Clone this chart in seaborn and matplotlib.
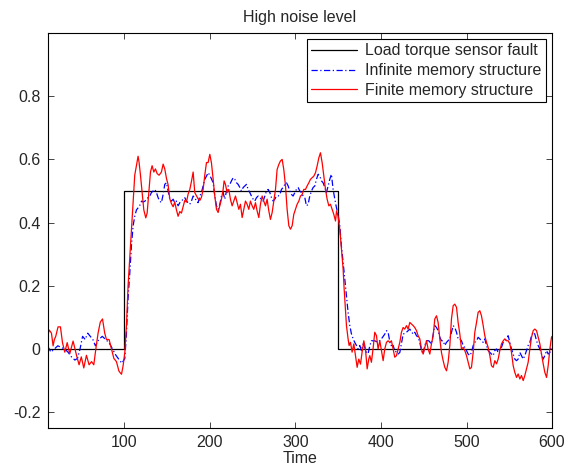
import pandas as pd
import seaborn as sns
import matplotlib.pyplot as plt

# Values #######################################################################

fault_time = [10, 100, 350, 600]
fault_value = [0, 0.5, 0, 0]

red_time = [10, 12, 14.6, 16.5, 18, 19.6, 22.3, 25.1, 27.5, 30.2, 33, 36, 39.9, 43.9, 46.9,
            49.5, 52.4, 55.5, 58.6, 61.5, 64.1, 66.5, 69.1, 71.7, 74.3, 76.9, 78.9, 82, 84.8,
            87.6, 90.6, 93.5, 96.5, 98.4, 100.4, 102.3, 104.2, 106.2, 108.2, 110.1, 112.0,
            114.0, 115.9, 117.1, 118.7, 120.6, 122.6, 124.9, 126.5, 128.4, 130.4, 132.3,
            134.3, 136.2, 138.2, 140.5, 143.2, 145.2, 147.1, 149.1, 151.0, 153.0, 154.9,
            156.9, 158.8, 160.8, 162.7, 164.7, 166.6, 168.6, 170.5, 172.5, 174.4, 176.4,
            178.3, 180.3, 182.2, 184.2, 186.1, 188.1, 190.0, 192.0, 193.9, 195.9, 197.8,
            199.8, 201.7, 203.7, 205.6, 207.6, 209.5, 211.5, 213.4, 215.4, 216.5, 218.1,
            220.0, 222.0, 223.9, 225.9, 227.8, 229.8, 231.7, 233.7, 235.6, 237.6, 239.5,
            241.5, 243.4, 245.4, 247.3, 249.3, 251.2, 253.2, 255.1, 257.1, 259.0, 261.0,
            262.9, 264.9, 266.8, 268.8, 270.7, 272.7, 274.6, 276.6, 278.5, 280.5, 282.4,
            284.4, 286.3, 288.3, 290.2, 292.2, 294.1, 296.1, 298.0, 300.0, 301.9, 303.9,
            305.8, 307.8, 309.7, 311.7, 313.6, 315.6, 317.5, 319.5, 321.4, 323.4, 325.3,
            327.3, 329.2, 331.2, 333.1, 335.1, 337.0, 339.0, 340.9, 342.9, 344.8, 346.8,
            348.0, 349.8, 351.8, 353.7, 355.7, 356.9, 358.4, 359.6, 361.5, 362.7, 364.3,
            366.2, 368.2, 370.1, 372.1, 374.0, 376.0, 377.9, 379.9, 381.8, 383.8, 385.7,
            386.9, 388.8, 390.8, 392.7, 394.7, 396.6, 398.6, 400.5, 402.5, 404.4, 406.4,
            408.3, 410.3, 412.2, 414.2, 416.1, 418.1, 420.0, 422.0, 423.9, 425.9, 427.8,
            429.8, 431.7, 433.7, 435.6, 437.6, 439.5, 441.5, 443.4, 445.4, 447.3, 449.3,
            451.2, 453.2, 455.1, 457.1, 459.0, 461.0, 462.9, 464.9, 466.8, 468.8, 470.7,
            472.7, 474.6, 476.6, 478.5, 480.5, 482.4, 484.4, 486.3, 488.3, 490.2, 492.2,
            494.1, 496.1, 498.0, 500.0, 501.9, 503.9, 505.8, 507.8, 509.7, 511.7, 513.6,
            515.6, 517.5, 519.5, 521.4, 523.4, 525.3, 527.3, 529.2, 531.2, 533.1, 535.1,
            537.0, 539.0, 540.9, 542.9, 544.8, 546.8, 548.7, 550.7, 552.6, 554.6, 556.5,
            558.5, 560.4, 562.4, 564.3, 566.3, 568.2, 570.2, 572.1, 574.1, 576.0, 578.0,
            579.9, 581.9, 583.8, 585.8, 587.7, 589.7, 591.6, 593.6, 595.5, 597.5, 599.4, 600]
red_value = [0.04, 0.06, 0.05, 0.01, 0.03, 0.04, 0.07, 0.07, 0.02, -0.01, 0.02, -0.015, 0.025,
             -0.02, -0.05, -0.025, -0.06, -0.02, -0.05, -0.04, -0.05, 0.0, 0.05, 0.085, 0.095,
             0.05, 0.03, 0.03, 0.0, -0.03, -0.04, -0.07, -0.08, -0.053, -0.01, 0.074, 0.2,
             0.29, 0.38, 0.46, 0.55, 0.58, 0.61, 0.59, 0.55, 0.495, 0.44, 0.415, 0.43, 0.495,
             0.56, 0.58, 0.56, 0.57, 0.555, 0.55, 0.56, 0.585, 0.57, 0.54, 0.52, 0.475, 0.46,
             0.45, 0.465, 0.44, 0.42, 0.435, 0.43, 0.45, 0.47, 0.465, 0.49, 0.505, 0.53, 0.56,
             0.495, 0.485, 0.475, 0.47, 0.48, 0.505, 0.55, 0.59, 0.59, 0.616, 0.589, 0.537,
             0.484, 0.442, 0.432, 0.453, 0.474, 0.505, 0.532, 0.521, 0.495, 0.505, 0.474,
             0.453, 0.468, 0.484, 0.463, 0.442, 0.458, 0.416, 0.442, 0.468, 0.458, 0.442,
             0.468, 0.453, 0.442, 0.463, 0.437, 0.416, 0.458, 0.484, 0.468, 0.453, 0.474,
             0.437, 0.41, 0.432, 0.468, 0.505, 0.568, 0.584, 0.595, 0.6, 0.568, 0.516, 0.442,
             0.39, 0.379, 0.39, 0.426, 0.442, 0.458, 0.468, 0.484, 0.489, 0.505, 0.505, 0.516,
             0.526, 0.537, 0.542, 0.547, 0.558, 0.579, 0.605, 0.621, 0.589, 0.547, 0.505,
             0.474, 0.453, 0.458, 0.442, 0.426, 0.405, 0.437, 0.42, 0.379, 0.316, 0.253, 0.19,
             0.126, 0.074, 0.032, 0.011, 0.021, -0.01, 0.016, -0.021, -0.058, -0.032, -0.048,
             -0.01, 0.026, 0.0, -0.063, -0.032, -0.021, -0.042, 0.003, 0.053, 0.042, 0.0,
             0.026, -0.005, -0.037, 0.0, 0.021, 0.026, 0.021, 0.026, 0.0, -0.026, -0.021, 0.0,
             0.021, 0.053, 0.068, 0.063, 0.074, 0.063, 0.084, 0.079, 0.074, 0.068, 0.058,
             0.042, 0.032, 0.0, -0.016, 0.005, 0.026, 0.0, -0.016, 0.016, 0.042, 0.095, 0.105,
             0.084, 0.032, -0.011, -0.037, -0.058, -0.069, -0.042, 0.011, 0.095, 0.137, 0.142,
             0.132, 0.084, 0.047, 0.0, 0.005, -0.005, -0.021, -0.042, -0.063, -0.058, -0.011,
             0.053, 0.084, 0.116, 0.121, 0.105, 0.074, 0.042, 0.021, 0.005, -0.021, -0.053,
             -0.058, -0.037, -0.047, -0.032, -0.005, 0.016, 0.026, 0.032, 0.026, 0.026, 0.016,
             -0.011, -0.053, -0.074, -0.09, -0.079, -0.095, -0.084, -0.1, -0.084, -0.063,
             -0.042, 0.0, 0.037, 0.058, 0.063, 0.058, 0.037, 0.016, -0.016, -0.047, -0.074,
             -0.09, -0.053, 0.0, 0.037, 0.04]

blue_time = [10, 14, 18, 22, 26, 30, 34, 38, 42, 45, 48, 51, 54, 57, 60, 63, 66, 70, 74, 78,
             82, 86, 90, 94, 97, 100.4, 102.3, 104.2, 106.2, 108.2, 110.1, 112.0, 114.0,
             116.0, 118, 120, 122, 124, 126, 129.6, 131.5, 133.5, 135.4, 137.4, 139.3, 141.3,
             143.2, 145.2, 147.1, 149.1, 151.0, 153.0, 154.9, 156.9, 158.8, 160.8, 162.7,
             164.7, 166.6, 168.6, 170.5, 172.5, 174.4, 176.4, 178.3, 180.3, 182.2, 184.2,
             186.1, 188.1, 190.0, 192.0, 193.9, 195.9, 197.8, 199.8, 203.7, 205.6, 207.6,
             209.5, 211.5, 213.4, 215.4, 217.3, 219.3, 221.2, 223.2, 225.1, 227.1, 229.0,
             231.0, 232.9, 234.9, 236.8, 238.8, 240.7, 242.7, 244.6, 246.6, 248.5, 250.5,
             252.4, 254.4, 256.3, 258.3, 260.2, 262.2, 264.1, 266.1, 268.0, 270.0, 271.9,
             273.9, 275.8, 277.8, 279.7, 281.7, 283.6, 285.5, 287.5, 289.5, 291.4, 293.3,
             295.3, 297.2, 299.2, 301.1, 303.1, 305.0, 307.0, 308.9, 310.9, 312.8, 314.8,
             316.7, 318.7, 320.6, 322.6, 324.5, 326.5, 328.4, 330.4, 332.3, 334.3, 336.2,
             338.2, 340.1, 342.0, 344.0, 346.0, 347.9, 349.8, 351.8, 353.7, 355.7, 357.6,
             359.6, 361.5, 363.5, 365.4, 367.4, 369.3, 371.3, 373.2, 375.2, 377.1, 379.1,
             381.0, 383.0, 384.9, 386.9, 388.8, 392.7, 396.6, 400.5, 404.4, 406.4, 408.3,
             411.1, 414.2, 416.1, 420.0, 422.0, 425.9, 429.8, 433.7, 437.6, 439.5, 441.5,
             443.4, 445.4, 447.3, 449.3, 451.2, 453.2, 455.9, 459.0, 462.9, 464.9, 466.8,
             468.8, 470.7, 472.7, 474.6, 476.6, 480.5, 482.4, 484.4, 486.3, 488.3, 490.2,
             492.2, 494.1, 496.1, 498.0, 500.0, 501.9, 503.9, 505.8, 507.8, 509.7, 511.7,
             513.6, 515.6, 517.5, 519.5, 521.4, 523.4, 525.3, 527.3, 529.2, 531.2, 533.1,
             535.1, 537.0, 539.0, 540.9, 542.9, 544.8, 546.8, 548.7, 550.7, 552.6, 554.6,
             556.5, 558.5, 560.4, 562.4, 564.3, 566.3, 568.2, 570.2, 572.1, 574.1, 576.0,
             578.0, 579.9, 581.9, 583.8, 585.8, 587.7, 589.7, 591.6, 593.6, 595.5, 597.5,
             599.4]
blue_value = [0.01, -0.01, 0.0, 0.01, 0.005, 0.0, -0.01, -0.025, -0.035, -0.03, 0.0, 0.04,
              0.03, 0.05, 0.04, 0.03, 0.01, 0.03, 0.04, 0.03, 0.02, 0.0, -0.02, -0.035, -0.045,
              -0.03, 0.05, 0.16, 0.24, 0.33, 0.39, 0.42, 0.44, 0.447, 0.455, 0.468, 0.465,
              0.468, 0.475, 0.484, 0.495, 0.5, 0.505, 0.495, 0.479, 0.468, 0.463, 0.489, 0.521,
              0.526, 0.5, 0.474, 0.468, 0.474, 0.463, 0.468, 0.453, 0.463, 0.468, 0.474, 0.479,
              0.468, 0.463, 0.458, 0.468, 0.484, 0.479, 0.468, 0.463, 0.484, 0.495, 0.516,
              0.537, 0.547, 0.558, 0.55, 0.526, 0.484, 0.453, 0.442, 0.458, 0.484, 0.495, 0.474,
              0.5, 0.516, 0.521, 0.532, 0.542, 0.537, 0.526, 0.521, 0.511, 0.5, 0.511, 0.516,
              0.521, 0.505, 0.495, 0.484, 0.474, 0.468, 0.479, 0.484, 0.479, 0.474, 0.468,
              0.484, 0.5, 0.505, 0.495, 0.479, 0.468, 0.474, 0.484, 0.484, 0.489, 0.505, 0.511,
              0.521, 0.526, 0.516, 0.5, 0.489, 0.484, 0.495, 0.505, 0.511, 0.5, 0.495, 0.484,
              0.479, 0.453, 0.458, 0.484, 0.5, 0.511, 0.516, 0.537, 0.553, 0.547, 0.532, 0.526,
              0.511, 0.495, 0.516, 0.537, 0.553, 0.505, 0.474, 0.447, 0.426, 0.39, 0.326,
              0.274, 0.221, 0.168, 0.116, 0.074, 0.048, 0.032, 0.021, 0.011, 0.0, 0.011,
              -0.005, 0.016, 0.005, -0.01, -0.015, 0.01, 0.026, 0.026, 0.021, 0.032, 0.047,
              0.058, 0.053, 0.011, 0.011, -0.005, -0.016, -0.011, 0.047, 0.053, 0.063, 0.047,
              0.053, 0.042, 0.037, 0.021, -0.005, -0.016, 0.011, 0.026, 0.026, 0.016, 0.074,
              0.068, 0.058, 0.037, 0.026, 0.026, 0.011, 0.021, 0.032, 0.053, 0.074, 0.068,
              0.053, 0.032, 0.032, 0.026, 0.011, 0.005, -0.005, -0.016, -0.021, -0.011, 0.011,
              0.021, 0.026, 0.037, 0.032, 0.026, 0.021, 0.032, 0.011, -0.005, -0.011, -0.016,
              -0.021, -0.005, 0.0, -0.011, 0.0, 0.005, 0.021, 0.026, 0.032, 0.042, 0.021, 0.0,
              -0.016, -0.032, -0.037, -0.032, -0.011, -0.021, -0.032, -0.021, -0.005, 0.011,
              0.021, 0.042, 0.053, 0.047, 0.026, 0.011, 0.0, -0.016, -0.032, -0.021, -0.005,
              -0.016, -0.011, 0.011]

y_ticks = [-0.2, 0, 0.2, 0.4, 0.6, 0.8]
y_tick_labels = ["-0.2", "0", "0.2", "0.4", "0.6", "0.8"]
x_ticks = [100, 200, 300, 400, 500, 600]

# Plot ##########################################################################

sns.set_style("ticks")
plt.rcParams['font.family'] = ['Liberation Sans', 'DejaVu Sans']
plt.rcParams['axes.unicode_minus'] = False

df_fault = pd.DataFrame({"Time": fault_time, "value": fault_value})
df_blue = pd.DataFrame({"Time": blue_time, "value": blue_value})
df_red = pd.DataFrame({"Time": red_time, "value": red_value})

fig = plt.figure(figsize=(5.74, 4.70), dpi=100)
ax = fig.add_axes([0.0828, 0.0894, 0.8789, 0.8404])

sns.lineplot(data=df_fault, x="Time", y="value", color="black", linewidth=0.9,
             drawstyle="steps-post", estimator=None, sort=False, ax=ax,
             label="Load torque sensor fault")
sns.lineplot(data=df_blue, x="Time", y="value", color="blue", linewidth=0.9,
             dashes=False, estimator=None, sort=False, ax=ax,
             label="Infinite memory structure")
ax.lines[-1].set_dashes([5, 2, 1, 2])
sns.lineplot(data=df_red, x="Time", y="value", color="red", linewidth=0.9,
             estimator=None, sort=False, ax=ax,
             label="Finite memory structure")

fs = 11.5
ax.set_xlim(10, 600)
ax.set_ylim(-0.25, 1.0)
ax.set_xticks(x_ticks)
ax.set_yticks(y_ticks)
ax.set_yticklabels(y_tick_labels)
ax.tick_params(direction="in", length=4, width=0.6, top=True, right=True,
               labelsize=fs, pad=5)
for s in ax.spines.values():
    s.set_linewidth(0.8)
    s.set_color("black")

ax.set_xlabel("Time", fontsize=fs, labelpad=1)
ax.set_ylabel("")
ax.set_title("High noise level", fontsize=fs, pad=8)

leg = ax.legend(loc="upper right", fontsize=fs, handlelength=2.9, handletextpad=0.5,
                borderaxespad=0.4, borderpad=0.25, labelspacing=0.3, fancybox=False,
                framealpha=1, edgecolor="black")
leg.get_frame().set_linewidth(0.8)
leg.legend_handles[1].set_dashes([5, 2, 1, 2])

plt.savefig("out.png", dpi=100)
